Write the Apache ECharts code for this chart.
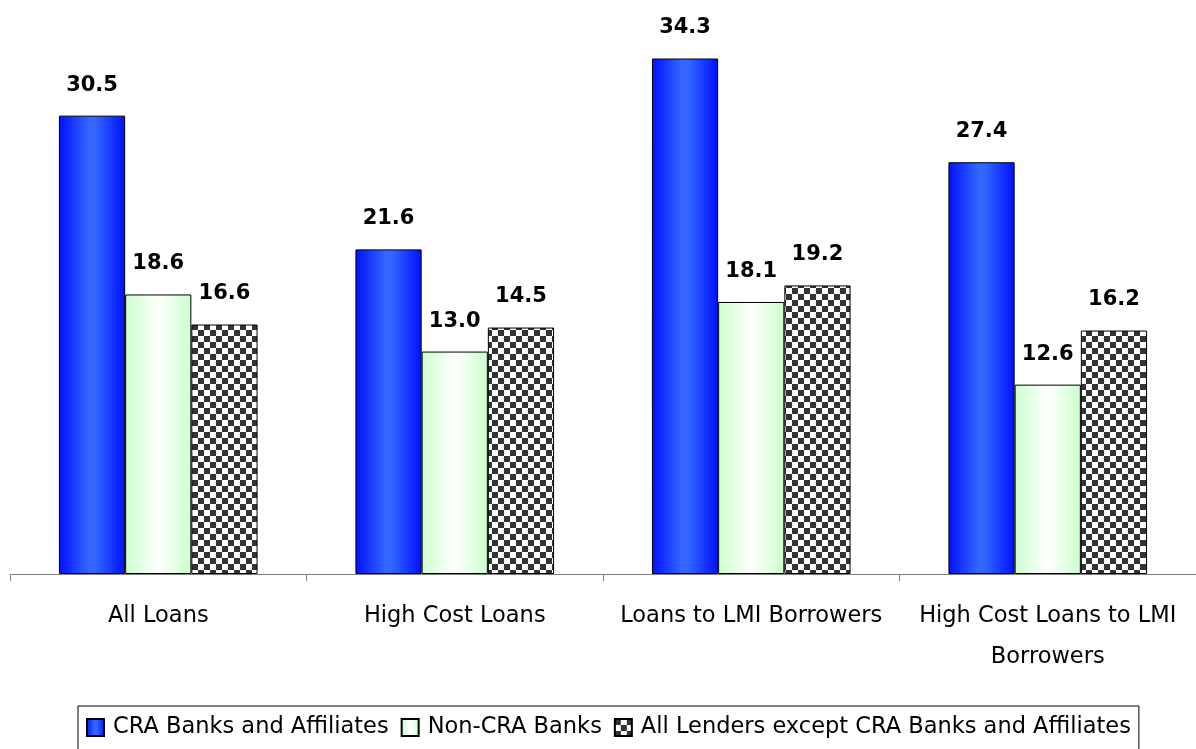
<!DOCTYPE html>
<html>
<head>
<meta charset="utf-8">
<script src="https://cdn.jsdelivr.net/npm/echarts@6/dist/echarts.min.js"></script>
<style>
html,body{margin:0;padding:0;background:#fff;overflow:hidden;}
#chart{width:1196px;height:749px;}
</style>
</head>
<body>
<div id="chart"></div>
<script>
const categories = ['All Loans', 'High Cost Loans', 'Loans to LMI Borrowers', 'High Cost Loans to LMI\nBorrowers'];
const seriesNames = ['CRA Banks and Affiliates', 'Non-CRA Banks', 'All Lenders except CRA Banks and Affiliates'];
// bar heights as drawn in the picture
const craBanks = [30.5, 21.6, 34.3, 27.4];
const nonCraBanks = [18.6, 14.8, 18.1, 12.6];
const allExceptCra = [16.6, 16.4, 19.2, 16.2];
// value labels as printed in the picture
const craLabels = ['30.5', '21.6', '34.3', '27.4'];
const nonCraLabels = ['18.6', '13.0', '18.1', '12.6'];
const allExceptCraLabels = ['16.6', '14.5', '19.2', '16.2'];

const FONT = '"DejaVu Sans", Verdana, sans-serif';

function checker(size) {
  const c = document.createElement('canvas');
  c.width = size * 2; c.height = size * 2;
  const g = c.getContext('2d');
  g.fillStyle = '#ffffff'; g.fillRect(0, 0, size * 2, size * 2);
  g.fillStyle = '#333333';
  g.fillRect(0, 0, size, size);
  g.fillRect(size, size, size, size);
  return c;
}
const checkImg = checker(6);

const blueGrad = new echarts.graphic.LinearGradient(0, 0, 1, 0, [
  {offset: 0, color: '#0010ff'},
  {offset: 0.45, color: '#3366ff'},
  {offset: 0.55, color: '#3366ff'},
  {offset: 1, color: '#0010ff'}
]);
const greenGrad = new echarts.graphic.LinearGradient(0, 0, 1, 0, [
  {offset: 0, color: '#ccffcc'},
  {offset: 0.5, color: '#ffffff'},
  {offset: 1, color: '#ccffcc'}
]);
const fills = [blueGrad, greenGrad, {image: checkImg, repeat: 'repeat'}];
const dataSets = [craBanks, nonCraBanks, allExceptCra];
const labelSets = [craLabels, nonCraLabels, allExceptCraLabels];

const chart = echarts.init(document.getElementById('chart'), null, {renderer: 'canvas'});
chart.setOption({
  animation: false,
  backgroundColor: '#ffffff',
  grid: {left: 10, width: 1200, top: 48, bottom: 175, containLabel: false},
  legend: {
    top: 706,
    left: 78,
    data: seriesNames,
    icon: 'rect',
    itemWidth: 17,
    itemHeight: 17,
    itemGap: 12,
    padding: [10, 8, 12, 8],
    borderColor: '#000',
    borderWidth: 1,
    textStyle: {fontFamily: FONT, fontSize: 22.5, color: '#000', padding: [0, 0, 0, 4]}
  },
  xAxis: {
    type: 'category',
    data: categories,
    axisLine: {lineStyle: {color: '#7f7f7f', width: 1}},
    axisTick: {show: true, length: 7, lineStyle: {color: '#7f7f7f'}},
    axisLabel: {fontFamily: FONT, fontSize: 22.5, color: '#000', margin: 22, lineHeight: 41, interval: 0}
  },
  yAxis: {type: 'value', min: 0, max: 35, show: false, splitLine: {show: false}},
  series: dataSets.map((d, i) => ({
    name: seriesNames[i],
    type: 'bar',
    data: d,
    barGap: '0%',
    barCategoryGap: '33%',
    itemStyle: {color: fills[i], borderColor: '#000', borderWidth: 1},
    label: {
      show: true,
      position: 'top',
      distance: 20,
      formatter: p => labelSets[i][p.dataIndex],
      fontFamily: FONT,
      fontSize: 21,
      fontWeight: 'bold',
      color: '#000'
    }
  }))
});
</script>
</body>
</html>
